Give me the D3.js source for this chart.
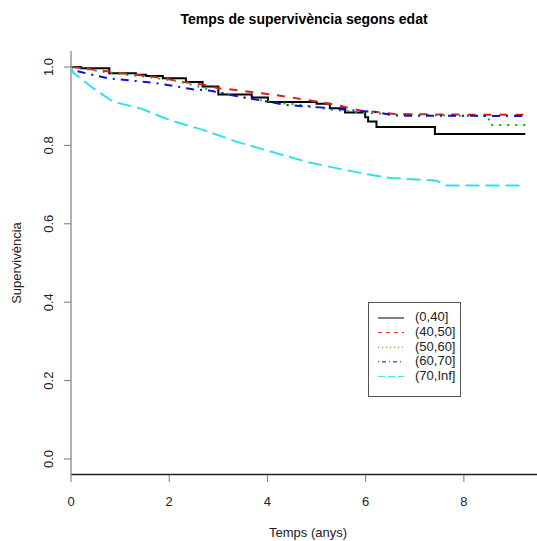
<!DOCTYPE html>
<html>
<head>
<meta charset="utf-8">
<script src="https://cdn.jsdelivr.net/npm/d3@7"></script>
<style>
  body { margin: 0; background: #fff; }
  text { font-family: "Liberation Sans", Arial, sans-serif; fill: #222; }
</style>
</head>
<body>
<div id="my_dataviz"></div>
<script>
// survival curves (time in years, survival)
var groups = ["(0,40]", "(40,50]", "(50,60]", "(60,70]", "(70,Inf]"];

var t040 = [0, 0.2, 0.78, 1.32, 1.53, 1.87, 2.34, 2.68, 3.0, 3.68, 4.01, 5.0, 5.27, 5.58, 5.99, 6.05, 6.22, 7.41, 9.25];
var s040 = [1.0, 0.997, 0.984, 0.980, 0.977, 0.971, 0.962, 0.950, 0.930, 0.922, 0.911, 0.906, 0.895, 0.884, 0.872, 0.861, 0.847, 0.829, 0.829];

var t4050 = [0, 0.3, 0.57, 1.05, 1.32, 1.8, 2.28, 2.75, 3.0, 3.44, 4.0, 4.46, 5.0, 5.41, 5.89, 6.16, 6.6, 8.5, 9.25];
var s4050 = [1.0, 0.996, 0.992, 0.984, 0.980, 0.973, 0.962, 0.954, 0.946, 0.940, 0.931, 0.923, 0.912, 0.903, 0.889, 0.886, 0.880, 0.878, 0.878];

var t5060 = [0, 0.4, 0.85, 1.53, 2.14, 2.6, 3.0, 3.71, 4.19, 4.73, 5.27, 6.02, 6.5, 8.1, 8.5, 8.53, 9.25];
var s5060 = [1.0, 0.993, 0.984, 0.975, 0.965, 0.950, 0.935, 0.918, 0.909, 0.903, 0.892, 0.883, 0.880, 0.875, 0.875, 0.852, 0.852];

var t6070 = [0, 0.1, 0.41, 0.77, 1.26, 1.66, 2.07, 2.48, 2.81, 3.09, 3.44, 3.9, 4.39, 5.07, 5.75, 6.16, 6.6, 9.25];
var s6070 = [1.0, 0.99, 0.981, 0.971, 0.965, 0.960, 0.952, 0.943, 0.940, 0.933, 0.924, 0.914, 0.903, 0.897, 0.889, 0.886, 0.876, 0.875];

var t70 = [0, 0.05, 0.45, 0.86, 1.4, 2.0, 2.7, 3.38, 4.1, 4.8, 5.4, 6.0, 6.5, 7.45, 7.62, 9.25];
var s70 = [1.0, 0.985, 0.946, 0.911, 0.895, 0.865, 0.839, 0.809, 0.783, 0.758, 0.742, 0.727, 0.717, 0.710, 0.698, 0.698];

var xTicks = [0, 2, 4, 6, 8];
var yTicks = [0, 0.2, 0.4, 0.6, 0.8, 1.0];

var series = [
  {name: groups[0], t: t040, s: s040, color: "#000000", dash: null, ldash: null, step: true},
  {name: groups[1], t: t4050, s: s4050, color: "#e41a1c", dash: "8,8", ldash: "4,4", step: false},
  {name: groups[2], t: t5060, s: s5060, color: "#1fa51f", dash: "2,6", ldash: "1,3", step: false},
  {name: groups[3], t: t6070, s: s6070, color: "#1010d0", dash: "2,6,8,6", ldash: "1,3,4,3", step: false},
  {name: groups[4], t: t70, s: s70, color: "#33e0e8", dash: "14,6", ldash: "7,3", step: false}
];

var W = 537, H = 541;
var svg = d3.select("#my_dataviz")
  .append("svg")
    .attr("width", W)
    .attr("height", H);

var x = d3.scaleLinear().domain([0, 9]).range([71, 513]);
var y = d3.scaleLinear().domain([0, 1]).range([459, 67]);

// axes lines (bty = "l")
svg.append("line")
  .attr("x1", 71).attr("x2", W).attr("y1", 474.5).attr("y2", 474.5)
  .style("stroke", "#222").style("stroke-width", 1.3);
svg.append("line")
  .attr("x1", 71).attr("x2", 71).attr("y1", 51).attr("y2", 475)
  .style("stroke", "#888").style("stroke-width", 1.3);

// X axis ticks
var gx = svg.append("g");
gx.selectAll("line").data(xTicks).enter().append("line")
  .attr("x1", function(d) { return x(d); })
  .attr("x2", function(d) { return x(d); })
  .attr("y1", 475).attr("y2", 482)
  .style("stroke", "#777");
gx.selectAll("text").data(xTicks).enter().append("text")
  .attr("x", function(d) { return x(d); })
  .attr("y", 506)
  .attr("text-anchor", "middle")
  .style("font-size", "13px")
  .text(function(d) { return d3.format("d")(d); });

// Y axis ticks
var gy = svg.append("g");
gy.selectAll("line").data(yTicks).enter().append("line")
  .attr("x1", 64).attr("x2", 71)
  .attr("y1", function(d) { return y(d); })
  .attr("y2", function(d) { return y(d); })
  .style("stroke", "#777");
gy.selectAll("text").data(yTicks).enter().append("text")
  .attr("transform", function(d) { return "translate(53," + y(d) + ") rotate(-90)"; })
  .attr("text-anchor", "middle")
  .style("font-size", "13px")
  .text(function(d) { return d3.format(".1f")(d); });

// titles
svg.append("text")
  .attr("x", 304).attr("y", 24)
  .attr("text-anchor", "middle")
  .style("font-size", "14px").style("font-weight", "bold")
  .style("fill", "#000")
  .text("Temps de supervivència segons edat");

svg.append("text")
  .attr("x", 308).attr("y", 537)
  .attr("text-anchor", "middle")
  .style("font-size", "13px")
  .text("Temps (anys)");

svg.append("text")
  .attr("transform", "translate(21,263) rotate(-90)")
  .attr("text-anchor", "middle")
  .style("font-size", "13px")
  .text("Supervivència");

// curves
series.forEach(function(sr) {
  var pts = sr.t.map(function(d, i) { return [d, sr.s[i]]; });
  var line = d3.line()
    .x(function(d) { return x(d[0]); })
    .y(function(d) { return y(d[1]); })
    .curve(sr.step ? d3.curveStepAfter : d3.curveLinear);
  svg.append("path")
    .datum(pts)
    .attr("d", line)
    .style("fill", "none")
    .style("stroke", sr.color)
    .style("stroke-width", 2)
    .style("stroke-dasharray", sr.dash);
});

// Legend
var lg = svg.append("g");
lg.append("rect")
  .attr("x", 368.5).attr("y", 302.5)
  .attr("width", 92).attr("height", 94)
  .style("fill", "#fff").style("stroke", "#555");

series.forEach(function(sr, i) {
  var ly = 318 + i * 14.6;
  lg.append("line")
    .attr("x1", 378).attr("x2", 404)
    .attr("y1", ly).attr("y2", ly)
    .style("stroke", sr.color)
    .style("stroke-dasharray", sr.ldash);
  lg.append("text")
    .attr("x", 415).attr("y", ly)
    .attr("dominant-baseline", "middle")
    .style("font-size", "13px")
    .text(sr.name);
});
</script>
</body>
</html>
